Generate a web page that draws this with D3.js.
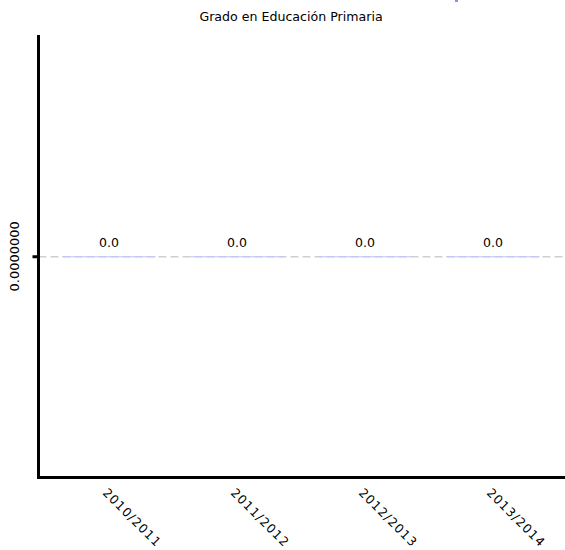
<!DOCTYPE html>
<html>
<head>
<meta charset="utf-8">
<script src="https://cdn.jsdelivr.net/npm/d3@7"></script>
<style>
  body { margin: 0; background: #fff; }
  svg { display: block; font-family: "DejaVu Sans", Verdana, sans-serif; }
</style>
</head>
<body>
<svg id="chart" width="565" height="550"></svg>
<script>
const title = "Grado en Educación Primaria";
const categories = ["2010/2011", "2011/2012", "2012/2013", "2013/2014"];
const values = [0, 0, 0, 0];
const valueLabels = ["0.0", "0.0", "0.0", "0.0"];
const yTicks = [0];
const yDomain = [-1, 1];

(function () {
const svg = d3.select("#chart");
const mLeft = 38.5, mTop = 35, mBottom = 477.5, mRight = 565;

const x = d3.scaleBand().domain(categories).range([45, 557]).paddingInner(0.27).paddingOuter(0.135);
const y = d3.scaleLinear().domain(yDomain).range([mBottom, mTop]);

// title
svg.append("text").attr("x", 291).attr("y", 21).attr("text-anchor", "middle")
  .attr("font-size", 12.6).attr("fill", "#000").text(title);

// clipped legend marker at top
svg.append("rect").attr("x", 455).attr("y", -6).attr("width", 3).attr("height", 8).attr("fill", "#8a8aff");

// grid line
svg.append("g").selectAll("line").data(yTicks).join("line")
  .attr("x1", mLeft).attr("x2", mRight)
  .attr("y1", d => y(d) + 0.5).attr("y2", d => y(d) + 0.5)
  .attr("stroke", "#d0d0d0").attr("stroke-width", 1.5).attr("stroke-dasharray", "8,4");

// bars (zero-height bars show as thin lines)
svg.append("g").selectAll("rect").data(values).join("rect")
  .attr("x", (d, i) => x(categories[i]))
  .attr("width", x.bandwidth())
  .attr("y", d => Math.min(y(d), y(0)))
  .attr("height", d => Math.max(1, Math.abs(y(d) - y(0))))
  .attr("fill", "#c4c4ff");

// value labels
svg.append("g").selectAll("text").data(valueLabels).join("text")
  .attr("x", (d, i) => x(categories[i]) + x.bandwidth() / 2)
  .attr("y", (d, i) => y(values[i]) - 9)
  .attr("text-anchor", "middle").attr("font-size", 12.5).attr("fill", "#000")
  .text(d => d);

// y axis
const yAxis = d3.axisLeft(y).tickValues(yTicks).tickFormat(d3.format(".7f")).tickSize(6).tickPadding(0);
const gy = svg.append("g").attr("transform", `translate(${mLeft},0)`).call(yAxis);
gy.select(".domain").remove();
gy.selectAll(".tick line").attr("stroke", "#000").attr("stroke-width", 3);
gy.selectAll(".tick text").remove();
svg.append("g").selectAll("text").data(yTicks).join("text")
  .attr("transform", d => `translate(19,${y(d)}) rotate(-90)`)
  .attr("text-anchor", "middle").attr("font-size", 13).attr("fill", "#000")
  .text(d => d3.format(".7f")(d));
svg.append("line").attr("x1", mLeft).attr("x2", mLeft).attr("y1", mTop).attr("y2", mBottom + 1.5)
  .attr("stroke", "#000").attr("stroke-width", 3);

// x axis
const xAxis = d3.axisBottom(x).tickSize(0).tickPadding(0);
const gx = svg.append("g").attr("transform", `translate(0,${mBottom})`).call(xAxis);
gx.select(".domain").remove();
gx.selectAll(".tick text")
  .attr("font-size", 12.3).attr("fill", "#000").attr("font-family", "DejaVu Sans, Verdana, sans-serif")
  .attr("letter-spacing", 1.1)
  .attr("text-anchor", "start").attr("dy", null)
  .attr("transform", "translate(-7,16) rotate(45)");
svg.append("line").attr("x1", mLeft - 1.5).attr("x2", mRight).attr("y1", mBottom).attr("y2", mBottom)
  .attr("stroke", "#000").attr("stroke-width", 3);
})();
</script>
</body>
</html>
